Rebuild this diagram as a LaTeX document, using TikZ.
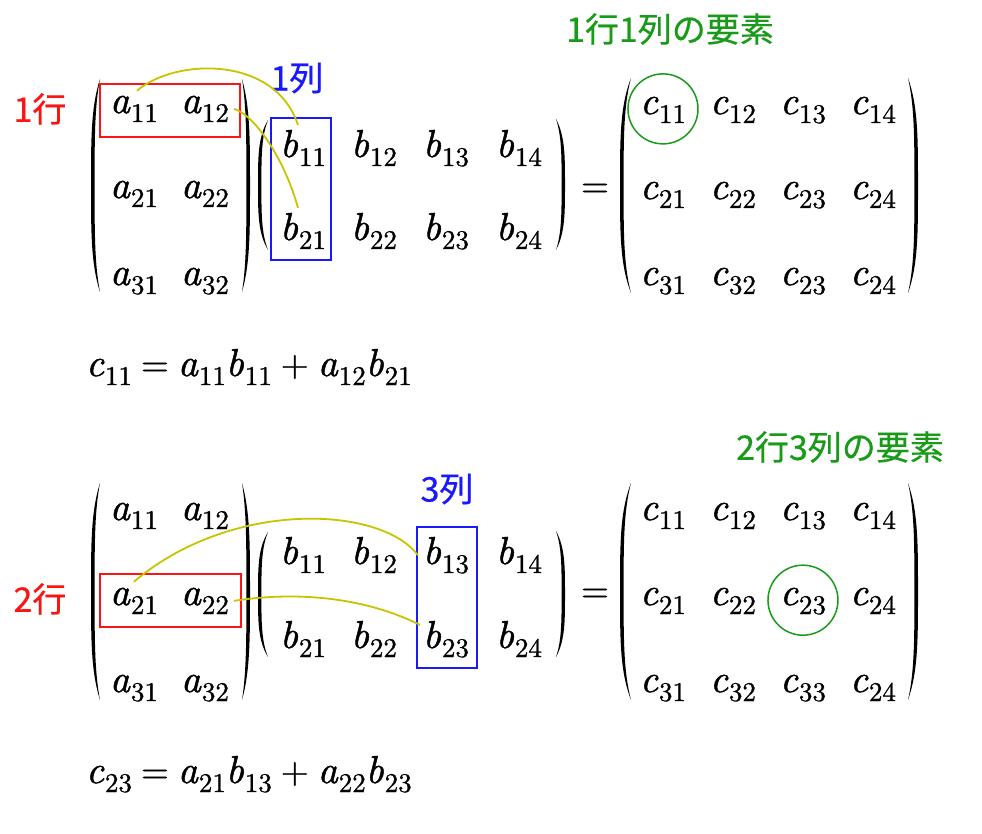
\documentclass[tikz,border=0pt]{standalone}
\usepackage{fontspec}
\newfontfamily\jp{Noto Sans CJK JP}[FakeBold=0.5]
\newfontfamily\mitf{lmroman10-italic.otf}[FakeBold=1.2]
\newfontfamily\mrmf{lmroman10-regular.otf}[FakeBold=1.0]
\definecolor{myred}{RGB}{250,20,20}
\definecolor{myblue}{RGB}{25,25,250}
\definecolor{mygreen}{RGB}{25,155,25}
\definecolor{myyel}{RGB}{200,196,0}
\newcommand\E[2]{{\fontsize{39}{44}\selectfont\mitf #1}\kern1pt\raisebox{-9pt}{\fontsize{27}{30}\selectfont\mrmf #2}}
\newcommand\Op[1]{\hspace{9pt}{\mrmf #1}\hspace{9pt}}
\newcommand\Paren[5]{% outer x, tip x, top y, bottom y, thickness (signed)
  \pgfmathsetmacro\pym{(#3+#4)/2}%
  \pgfmathsetmacro\phh{#4-#3}%
  \pgfmathsetmacro\pxi{#1+(#5)}%
  \pgfmathsetmacro\pya{#3+0.13*\phh}%
  \pgfmathsetmacro\pyb{#3+0.28*\phh}%
  \pgfmathsetmacro\pyc{#4-0.28*\phh}%
  \pgfmathsetmacro\pyd{#4-0.13*\phh}%
  \fill (#2,#3) .. controls (#1,\pya) and (#1,\pyb) .. (#1,\pym)
    .. controls (#1,\pyc) and (#1,\pyd) .. (#2,#4)
    .. controls (\pxi,\pyd) and (\pxi,\pyc) .. (\pxi,\pym)
    .. controls (\pxi,\pyb) and (\pxi,\pya) .. (#2,#3) -- cycle;}
\begin{document}
\begin{tikzpicture}[x=1pt,y=-1pt,
  ent/.style={anchor=base west, inner sep=0pt, outer sep=0pt, font=\fontsize{36}{43}\selectfont},
  lab/.style={inner sep=0pt, font=\jp\fontsize{34}{40}\selectfont},
  rbox/.style={draw=myred, line width=1.5pt},
  bbox/.style={draw=myblue, line width=1.5pt},
  gcirc/.style={draw=mygreen, line width=1.5pt, circle, minimum size=70pt, inner sep=0pt},
  yel/.style={draw=myyel, line width=1.8pt}]
\useasboundingbox (0,0) rectangle (982,834);
\fill[white] (0,0) rectangle (982,834);

% ---------- top ----------
\foreach \r/\y in {1/113,2/198,3/285}{
  \node[ent] (At\r1) at (110,\y) {\E{a}{\r1}};
  \node[ent] (At\r2) at (181,\y) {\E{a}{\r2}};
}
\foreach \r/\y in {1/157,2/240}{
  \node[ent] (Bt\r1) at (280,\y) {\E{b}{\r1}};
  \node[ent] (Bt\r2) at (351,\y) {\E{b}{\r2}};
  \node[ent] (Bt\r3) at (423,\y) {\E{b}{\r3}};
  \node[ent] (Bt\r4) at (496,\y) {\E{b}{\r4}};
}
\node[ent] (Ct11) at (640,114) {\E{c}{11}};
\node[ent] (Ct12) at (710,114) {\E{c}{12}};
\node[ent] (Ct13) at (780,114) {\E{c}{13}};
\node[ent] (Ct14) at (850,114) {\E{c}{14}};
\node[ent] (Ct21) at (640,199) {\E{c}{21}};
\node[ent] (Ct22) at (710,199) {\E{c}{22}};
\node[ent] (Ct23) at (780,199) {\E{c}{23}};
\node[ent] (Ct24) at (850,199) {\E{c}{24}};
\node[ent] (Ct31) at (640,285) {\E{c}{31}};
\node[ent] (Ct32) at (710,285) {\E{c}{32}};
\node[ent] (Ct33) at (780,285) {\E{c}{23}};
\node[ent] (Ct34) at (850,285) {\E{c}{24}};
\node[ent] (eqt) at (581,197) {\mrmf =};

\Paren{91}{100}{79}{292}{3.6}
\Paren{250}{242}{79}{292}{-3.6}
\Paren{258}{268}{120}{250}{3.4}
\Paren{565}{556}{119}{250}{-3.4}
\Paren{620}{631}{78}{293}{3.6}
\Paren{918}{908}{78}{293}{-3.6}

\draw[rbox] (100,84) rectangle (240,137);
\draw[bbox] (271,118) rectangle (331,260);
\node[gcirc] (circt) at ([yshift=1pt]Ct11.center) {};

\node[lab, text=myred] (rowt) at (40,109) {1行};
\node[lab, text=myblue] (colt) at (297,78) {1列};
\node[lab, text=mygreen] (elt) at (670,29) {1行1列の要素};

\draw[yel] ([shift={(3pt,5pt)}]At11.north) .. controls (175,58) and (275,55) .. ([shift={(-5pt,5pt)}]Bt11.north);
\draw[yel] ([xshift=5pt]At12.east) .. controls (255,115) and (285,160) .. ([shift={(-5pt,5pt)}]Bt21.north);

\node[ent] (formt) at (86,376) {\E{c}{11}\Op{=}\E{a}{11}\E{b}{11}\Op{+}\E{a}{12}\E{b}{21}};

% ---------- bottom ----------
\foreach \r/\y in {1/520,2/605,3/692}{
  \node[ent] (Ab\r1) at (110,\y) {\E{a}{\r1}};
  \node[ent] (Ab\r2) at (181,\y) {\E{a}{\r2}};
}
\foreach \r/\y in {1/564,2/648}{
  \node[ent] (Bb\r1) at (280,\y) {\E{b}{\r1}};
  \node[ent] (Bb\r2) at (351,\y) {\E{b}{\r2}};
  \node[ent] (Bb\r3) at (423,\y) {\E{b}{\r3}};
  \node[ent] (Bb\r4) at (496,\y) {\E{b}{\r4}};
}
\node[ent] (Cb11) at (640,520) {\E{c}{11}};
\node[ent] (Cb12) at (710,520) {\E{c}{12}};
\node[ent] (Cb13) at (780,520) {\E{c}{13}};
\node[ent] (Cb14) at (850,520) {\E{c}{14}};
\node[ent] (Cb21) at (640,605) {\E{c}{21}};
\node[ent] (Cb22) at (710,605) {\E{c}{22}};
\node[ent] (Cb23) at (780,605) {\E{c}{23}};
\node[ent] (Cb24) at (850,605) {\E{c}{24}};
\node[ent] (Cb31) at (640,692) {\E{c}{31}};
\node[ent] (Cb32) at (710,692) {\E{c}{32}};
\node[ent] (Cb33) at (780,692) {\E{c}{33}};
\node[ent] (Cb34) at (850,692) {\E{c}{24}};
\node[ent] (eqb) at (581,602) {\mrmf =};

\Paren{91}{100}{483}{700}{3.6}
\Paren{250}{242}{483}{700}{-3.6}
\Paren{258}{268}{532}{657}{3.4}
\Paren{565}{556}{531}{657}{-3.4}
\Paren{620}{631}{483}{700}{3.6}
\Paren{918}{908}{483}{700}{-3.6}

\draw[rbox] (100,574) rectangle (241,627);
\draw[bbox] (417,527) rectangle (477,668);
\node[gcirc] (circb) at ([yshift=1pt]Cb23.center) {};

\node[lab, text=myred] (rowb) at (40,599) {2行};
\node[lab, text=myblue] (colb) at (447,489) {3列};
\node[lab, text=mygreen] (elb) at (840,447) {2行3列の要素};

\draw[yel] ([yshift=6pt]Ab21.north) .. controls (230,500) and (380,505) .. ([xshift=-5pt]Bb13.west);
\draw[yel] ([xshift=5pt]Ab22.east) .. controls (290,592) and (360,595) .. ([shift={(-3pt,-4pt)}]Bb23.north west);

\node[ent] (formb) at (86,783) {\E{c}{23}\Op{=}\E{a}{21}\E{b}{13}\Op{+}\E{a}{22}\E{b}{23}};
\end{tikzpicture}
\end{document}
